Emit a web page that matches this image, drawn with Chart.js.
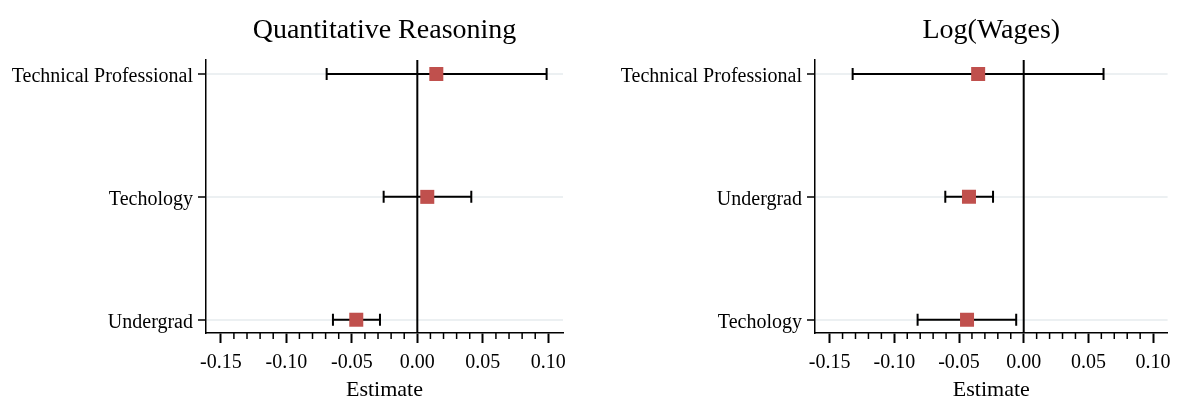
<!DOCTYPE html>
<html>
<head>
<meta charset="utf-8">
<script src="https://cdn.jsdelivr.net/npm/chart.js@4.4.1/dist/chart.umd.min.js"></script>
<style>
  html, body { margin: 0; padding: 0; background: #fff; }
  #wrap { position: relative; width: 1179px; height: 401px; overflow: hidden; }
  .panel { position: absolute; top: 0; }
</style>
</head>
<body>
<div id="wrap">
  <canvas id="qr" class="panel" width="590" height="401" style="left:0px"></canvas>
  <canvas id="lw" class="panel" width="589" height="401" style="left:590px"></canvas>
</div>
<script>
// Shared x axis
const X_TICKS = [-0.15, -0.10, -0.05, 0.00, 0.05, 0.10];
const X_LABEL = 'Estimate';

// Panel 1: Quantitative Reasoning (categories listed top to bottom)
const QR_TITLE = 'Quantitative Reasoning';
const QR_CATS = ['Technical Professional', 'Techology', 'Undergrad'];
const QR_EST  = [0.0145, 0.0076, -0.0466];
const QR_LO   = [-0.0692, -0.0257, -0.0644];
const QR_HI   = [0.0987, 0.0412, -0.0285];

// Panel 2: Log(Wages)
const LW_TITLE = 'Log(Wages)';
const LW_CATS = ['Technical Professional', 'Undergrad', 'Techology'];
const LW_EST  = [-0.0352, -0.0423, -0.0438];
const LW_LO   = [-0.1322, -0.0606, -0.0820];
const LW_HI   = [0.0617, -0.0237, -0.0058];

const FONT = '"Liberation Serif", "Times New Roman", Times, serif';
const X_MIN = -0.1613, X_MAX = 0.1112;

// Zero line, confidence intervals, minor ticks and panel title
const coefPlot = {
  id: 'coefPlot',
  beforeDatasetsDraw(chart, args, opts) {
    const { ctx, chartArea: a, scales: { x, y } } = chart;
    ctx.save();
    const x0 = x.getPixelForValue(0);
    ctx.strokeStyle = '#000';
    ctx.lineWidth = 2;
    ctx.beginPath();
    ctx.moveTo(x0, a.top);
    ctx.lineTo(x0, a.bottom);
    ctx.stroke();

    const n = opts.lo.length;
    for (let i = 0; i < n; i++) {
      const py = y.getPixelForValue(n - 1 - i);
      const p1 = x.getPixelForValue(opts.lo[i]);
      const p2 = x.getPixelForValue(opts.hi[i]);
      ctx.beginPath();
      ctx.moveTo(p1, py); ctx.lineTo(p2, py);
      ctx.moveTo(p1, py - 6); ctx.lineTo(p1, py + 6);
      ctx.moveTo(p2, py - 6); ctx.lineTo(p2, py + 6);
      ctx.stroke();
    }
    ctx.restore();
  },
  afterDraw(chart, args, opts) {
    const { ctx, chartArea: a, scales: { x } } = chart;
    ctx.save();
    ctx.strokeStyle = '#000';
    ctx.lineWidth = 1.5;
    const k0 = Math.round(X_TICKS[0] * 100);
    const k1 = Math.round(X_TICKS[X_TICKS.length - 1] * 100);
    for (let k = k0; k <= k1; k++) {
      if (k % 5 === 0) continue;
      const px = x.getPixelForValue(k / 100);
      ctx.beginPath();
      ctx.moveTo(px, a.bottom);
      ctx.lineTo(px, a.bottom + 6);
      ctx.stroke();
    }
    ctx.fillStyle = '#000';
    ctx.font = '28px ' + FONT;
    ctx.textAlign = 'center';
    ctx.textBaseline = 'alphabetic';
    ctx.fillText(opts.title, (a.left + a.right) / 2, 38);
    ctx.restore();
  }
};

function makePanel(id, title, cats, est, lo, hi, axisWidth, padRight) {
  const n = cats.length;
  return new Chart(document.getElementById(id), {
    type: 'scatter',
    data: {
      datasets: [{
        data: est.map((v, i) => ({ x: v, y: n - 1 - i })),
        pointStyle: 'rect',
        pointRadius: 9.9,
        pointHoverRadius: 9.9,
        backgroundColor: '#c0504d',
        borderWidth: 0
      }]
    },
    options: {
      responsive: false,
      animation: false,
      devicePixelRatio: 1,
      layout: { padding: { left: 0, right: padRight, top: 60, bottom: 0 } },
      plugins: {
        legend: { display: false },
        tooltip: { enabled: false },
        coefPlot: { title: title, lo: lo, hi: hi }
      },
      scales: {
        x: {
          type: 'linear',
          min: X_MIN,
          max: X_MAX,
          afterBuildTicks: s => { s.ticks = X_TICKS.map(v => ({ value: v })); },
          afterFit: s => { s.height = 68; },
          ticks: {
            callback: v => Number(v).toFixed(2),
            color: '#000',
            font: { family: FONT, size: 20 },
            padding: 8,
            maxRotation: 0,
            autoSkip: false
          },
          grid: { drawOnChartArea: false, tickLength: 10, tickWidth: 2, tickColor: '#000' },
          border: { display: true, color: '#000', width: 1.5 },
          title: {
            display: true,
            text: X_LABEL,
            color: '#000',
            font: { family: FONT, size: 22 },
            padding: { top: 0, bottom: -2 }
          }
        },
        y: {
          type: 'linear',
          min: -0.108,
          max: n - 1 + 0.114,
          afterBuildTicks: s => { s.ticks = cats.map((_, i) => ({ value: i })); },
          afterFit: s => { s.width = axisWidth; },
          ticks: {
            callback: v => cats[n - 1 - v],
            color: '#000',
            font: { family: FONT, size: 20 },
            padding: 5,
            labelOffset: 3,
            autoSkip: false
          },
          grid: { color: '#ecf0f2', lineWidth: 2, tickLength: 8, tickWidth: 1.5, tickColor: '#000' },
          border: { display: true, color: '#000', width: 1.5 }
        }
      }
    },
    plugins: [coefPlot]
  });
}

makePanel('qr', QR_TITLE, QR_CATS, QR_EST, QR_LO, QR_HI, 206, 27);
makePanel('lw', LW_TITLE, LW_CATS, LW_EST, LW_LO, LW_HI, 225, 7);
</script>
</body>
</html>
